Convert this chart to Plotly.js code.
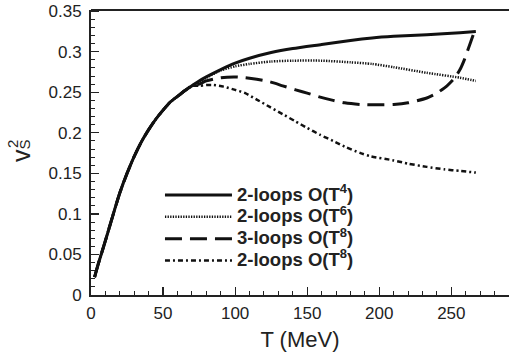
<!DOCTYPE html>
<html><head><meta charset="utf-8">
<script src="https://cdn.plot.ly/plotly-3.0.1.min.js"></script>
<style>html,body{margin:0;padding:0;background:#fff;}#chart{width:509px;height:354px;}</style>
</head><body><div id="chart"></div>
<script>
const T_rise = [2.5, 5, 10, 15, 20, 25, 30, 35, 40, 45, 50, 55, 60, 65, 70];
const v_rise = [0.022, 0.038, 0.067, 0.097, 0.126, 0.150, 0.171, 0.189, 0.204, 0.217, 0.228, 0.238, 0.245, 0.252, 0.258];

const T_a = [75, 80, 90, 100, 110, 125, 140, 160, 180, 195, 210, 233, 256, 267];
const v_a = [0.264, 0.269, 0.278, 0.286, 0.292, 0.299, 0.304, 0.309, 0.314, 0.317, 0.319, 0.321, 0.3235, 0.325];

const T_b = [75, 80, 90, 100, 110, 125, 140, 160, 180, 195, 210, 233, 256, 267];
const v_b = [0.263, 0.268, 0.277, 0.282, 0.285, 0.288, 0.289, 0.289, 0.287, 0.285, 0.281, 0.274, 0.268, 0.264];

const T_c = [75, 80, 90, 100, 107, 115, 124, 133, 142, 150, 159, 168, 176, 187, 198, 210, 220, 233, 240, 247, 252, 256, 259, 262, 265, 267];
const v_c = [0.260, 0.264, 0.268, 0.269, 0.268, 0.266, 0.263, 0.258, 0.253, 0.249, 0.244, 0.240, 0.237, 0.235, 0.2346, 0.235, 0.237, 0.243, 0.249, 0.258, 0.267, 0.278, 0.290, 0.305, 0.320, 0.330];

const T_d = [75, 80, 85, 92, 100, 107, 115, 124, 133, 142, 150, 159, 168, 176, 187, 194, 210, 220, 233, 245, 256, 267];
const v_d = [0.258, 0.259, 0.259, 0.257, 0.253, 0.249, 0.241, 0.232, 0.223, 0.214, 0.206, 0.1975, 0.190, 0.183, 0.175, 0.171, 0.166, 0.162, 0.158, 0.155, 0.153, 0.151];

const loops = ['2-loops', '2-loops', '3-loops', '2-loops'];
const orders = ['4', '6', '8', '8'];

const xTicks = [0, 50, 100, 150, 200, 250];
const yTicks = [0, 0.05, 0.1, 0.15, 0.2, 0.25, 0.3, 0.35];
const yTickText = ['0', '0.05', '0.1', '0.15', '0.2', '0.25', '0.3', '0.35'];

const styles = [
  {color: '#111', width: 3, dash: 'solid'},
  {color: '#111', width: 2.5, dash: '1.3px,1.3px'},
  {color: '#111', width: 3, dash: '17px,8px'},
  {color: '#111', width: 2.5, dash: '5px,3px,2px,3px'}
];
const Ts = [T_a, T_b, T_c, T_d];
const Vs = [v_a, v_b, v_c, v_d];

const traces = Ts.map((t, i) => ({
  x: T_rise.concat(t), y: v_rise.concat(Vs[i]),
  type: 'scatter', mode: 'lines',
  name: '<span style="font-size:18.5px">' + loops[i] + ' O(T<sup>' + orders[i] + '</sup>)</span>',
  line: Object.assign({shape: 'spline', smoothing: 0.6}, styles[i])
}));

const px2x = p => (p - 91) / 418;
const px2y = p => (295 - p) / 285;

const ann = (text, px, py, size) => ({
  text: text, xref: 'paper', yref: 'paper', x: px2x(px), y: px2y(py),
  xanchor: 'center', yanchor: 'middle', textangle: -90,
  showarrow: false, font: {size: size, color: '#222'}
});

const layout = {
  width: 509, height: 354,
  margin: {l: 91, r: 0, t: 10, b: 59},
  paper_bgcolor: '#fff', plot_bgcolor: '#fff',
  font: {family: 'Liberation Sans, Arial, sans-serif', color: '#222'},
  showlegend: true,
  legend: {x: 0.165, y: 0.407, xanchor: 'left', yanchor: 'top', bgcolor: 'rgba(0,0,0,0)',
           font: {size: 14.5, family: 'Liberation Sans, Arial, sans-serif', weight: 'bold', color: '#222'},
           itemwidth: 67, tracegroupgap: 0},
  xaxis: {
    range: [0, 290], showgrid: false, zeroline: false,
    showline: true, linecolor: '#222', linewidth: 2,
    ticks: 'inside', ticklen: 8, tickwidth: 1.2, tickcolor: '#222',
    tickvals: xTicks, ticktext: xTicks.map(String),
    tickfont: {size: 17}, ticklabelstandoff: 2,
    minor: {dtick: 10, ticks: 'inside', ticklen: 4, tickcolor: '#222', tickwidth: 1, showgrid: false},
    title: {text: 'T (MeV)', font: {size: 22}, standoff: 9}
  },
  yaxis: {
    range: [0, 0.3515], showgrid: false, zeroline: false,
    showline: true, linecolor: '#222', linewidth: 2,
    ticks: 'inside', ticklen: 8, tickwidth: 1.2, tickcolor: '#222',
    tickvals: yTicks, ticktext: yTickText,
    tickfont: {size: 17}, ticklabelstandoff: 4,
    minor: {dtick: 0.01, ticks: 'inside', ticklen: 4, tickcolor: '#222', tickwidth: 1, showgrid: false},
    title: {text: ''}
  },
  annotations: [
    ann('v', 21, 156, 25),
    ann('2', 12, 144, 15),
    ann('S', 23.5, 145, 15)
  ],
  shapes: [{type: 'line', xref: 'paper', yref: 'paper', x0: 0, x1: 1, y0: 1, y1: 1, line: {color: '#222', width: 2}}]
};

Plotly.newPlot('chart', traces, layout, {staticPlot: true, displayModeBar: false});
</script></body></html>
